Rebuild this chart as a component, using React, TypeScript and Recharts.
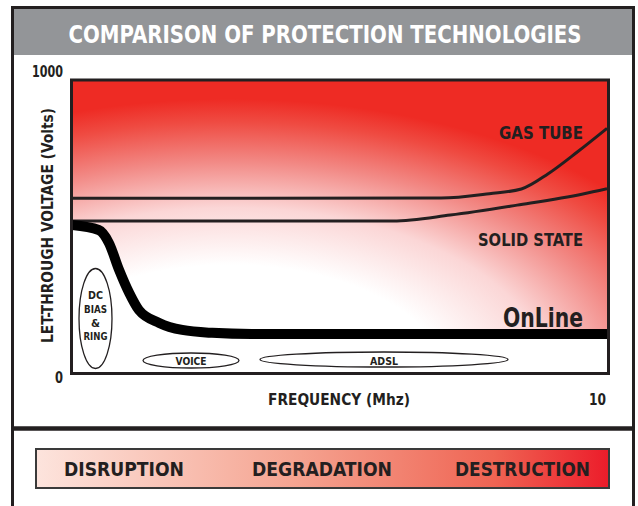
import { Area, ComposedChart, Line, XAxis, YAxis } from "recharts";

// frequency (MHz) / let-through voltage (V)
const gasFreq = [0, 3, 6.9, 7.8, 8.4, 8.9, 9.45, 10];
const gasVolts = [596, 596, 597, 612, 628, 680, 755, 835];
const solidFreq = [0, 3, 6.0, 7.07, 8.32, 9.55, 10];
const solidVolts = [519, 519, 519, 539, 573, 611, 629];
const onlineFreq = [0, 0.5, 0.69, 0.88, 1.07, 1.25, 1.63, 2.06, 2.62, 3.36, 10];
const onlineVolts = [505, 488, 444, 352, 273, 215, 171, 147, 137, 133, 133];

const zones = ["DISRUPTION", "DEGRADATION", "DESTRUCTION"];

const toRows = (fs: number[], vs: number[]) => fs.map((f, i) => ({ f, v: vs[i] }));
const gasData = toRows(gasFreq, gasVolts);
const solidData = toRows(solidFreq, solidVolts);
const onlineData = toRows(onlineFreq, onlineVolts);

const FONT = "'Liberation Sans Narrow', 'DejaVu Sans Condensed', 'Arial Narrow', sans-serif";
const INK = "#231f20";

type TProps = {
  x: number;
  y: number;
  len: number;
  size: number;
  fill?: string;
  anchor?: "start" | "middle" | "end";
  transform?: string;
  children: string;
};

function T({ x, y, len, size, fill = INK, anchor = "start", transform, children }: TProps) {
  return (
    <text
      x={x}
      y={y}
      fontSize={size}
      fontWeight={700}
      fontFamily={FONT}
      fill={fill}
      textAnchor={anchor}
      textLength={len}
      lengthAdjust="spacingAndGlyphs"
      transform={transform}
    >
      {children}
    </text>
  );
}

const layer: React.CSSProperties = { position: "absolute", left: 0, top: 0, pointerEvents: "none" };

export default function App() {
  return (
    <div style={{ position: "absolute", left: 0, top: 0, width: 638, height: 506, overflow: "hidden", background: "#fff" }}>
      <svg width={638} height={506} style={layer}>
        <defs>
          <linearGradient id="barGrad" x1="0" y1="0" x2="1" y2="0">
            <stop offset="0" stopColor="#fde4dd" />
            <stop offset="0.45" stopColor="#f5a491" />
            <stop offset="0.8" stopColor="#ef6453" />
            <stop offset="1" stopColor="#ec1c2a" />
          </linearGradient>
        </defs>
        <rect x={12.5} y={7.5} width={621} height={520} fill="#fff" stroke={INK} strokeWidth={3} />
        <rect x={14} y={9} width={618} height={46} fill="#939598" />
        <T x={325} y={43} len={513} size={24} fill="#fff" anchor="middle">COMPARISON OF PROTECTION TECHNOLOGIES</T>
        <T x={32} y={77} len={31} size={16}>1000</T>
        <T x={55} y={383} len={8} size={16}>0</T>
        <T x={589} y={405} len={17} size={16}>10</T>
        <T x={268} y={405} len={142} size={16}>FREQUENCY (Mhz)</T>
        <T x={53} y={225.5} len={235} size={16} anchor="middle" transform="rotate(-90 53 225.5)">
          LET-THROUGH VOLTAGE (Volts)
        </T>
        <line x1={11} x2={635} y1={428.5} y2={428.5} stroke={INK} strokeWidth={4.5} />
        <rect x={36} y={449} width={573} height={39} fill="url(#barGrad)" stroke="#3a3a3a" strokeWidth={2} />
        <T x={64} y={476} len={120} size={20}>{zones[0]}</T>
        <T x={252} y={476} len={140} size={20}>{zones[1]}</T>
        <T x={455} y={476} len={135} size={20}>{zones[2]}</T>
      </svg>

      <div style={layer}>
        <ComposedChart width={638} height={506} margin={{ top: 80, right: 31, bottom: 133, left: 72 }}>
          <defs>
            <radialGradient
              id="bgGrad"
              gradientUnits="userSpaceOnUse"
              cx={230}
              cy={385}
              r={520}
              gradientTransform="translate(230 385) scale(1 0.55) translate(-230 -385)"
            >
              <stop offset="0" stopColor="#ffffff" />
              <stop offset="0.42" stopColor="#ffffff" />
              <stop offset="0.62" stopColor="#fbd6d6" />
              <stop offset="0.78" stopColor="#f28a86" />
              <stop offset="0.92" stopColor="#ef4b42" />
              <stop offset="1" stopColor="#ee2b24" />
            </radialGradient>
          </defs>
          <XAxis type="number" dataKey="f" domain={[0, 10]} hide allowDataOverflow />
          <YAxis type="number" domain={[0, 1000]} hide allowDataOverflow />
          <Area
            data={onlineData}
            dataKey={(d: { v: number }) => [d.v, 1000]}
            type="monotone"
            stroke="none"
            fill="url(#bgGrad)"
            fillOpacity={1}
            isAnimationActive={false}
          />
          <Line data={gasData} dataKey="v" type="monotone" stroke={INK} strokeWidth={3} dot={false} isAnimationActive={false} />
          <Line data={solidData} dataKey="v" type="monotone" stroke={INK} strokeWidth={3} dot={false} isAnimationActive={false} />
          <Line data={onlineData} dataKey="v" type="monotone" stroke="#000" strokeWidth={10} dot={false} isAnimationActive={false} />
        </ComposedChart>
      </div>

      <svg width={638} height={506} style={layer}>
        <rect x={71.5} y={80} width={537} height={293.5} fill="none" stroke={INK} strokeWidth={3} />
        <T x={499} y={139} len={84} size={18}>GAS TUBE</T>
        <T x={478} y={246} len={105} size={18}>SOLID STATE</T>
        <T x={503} y={327} len={80} size={26}>OnLine</T>

        <ellipse cx={95.5} cy={318.5} rx={16.5} ry={50} fill="#fff" stroke={INK} strokeWidth={1.3} />
        <T x={95.5} y={299} len={15} size={11} anchor="middle">DC</T>
        <T x={95.5} y={313} len={23} size={11} anchor="middle">BIAS</T>
        <T x={95.5} y={327} len={9} size={11} anchor="middle">&amp;</T>
        <T x={95.5} y={340} len={24} size={11} anchor="middle">RING</T>

        <ellipse cx={191} cy={360.5} rx={48} ry={7.5} fill="#fff" stroke={INK} strokeWidth={1.3} />
        <T x={191} y={365} len={31} size={11} anchor="middle">VOICE</T>

        <ellipse cx={384} cy={359.5} rx={124} ry={7.5} fill="#fff" stroke={INK} strokeWidth={1.3} />
        <T x={384} y={365} len={28} size={11} anchor="middle">ADSL</T>
      </svg>
    </div>
  );
}
